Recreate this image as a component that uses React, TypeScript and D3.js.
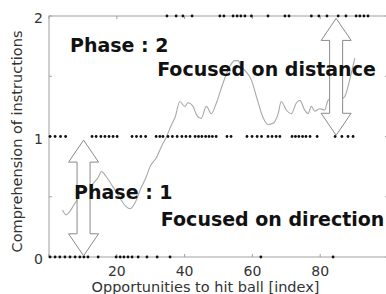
import React from 'react'
import * as d3 from 'd3'

// smoothed comprehension curve (index, value)
const curveIndex = [4, 5, 6.2, 7.5, 9, 10.5, 12, 13.3, 14.5, 15.5, 16.8, 18.9, 20.9, 22.7, 23.9, 25.4, 27.1, 28.6, 29.8, 31.8, 33.2, 34.7, 36, 37.2, 38.6, 40.1, 41, 42.5, 43.5, 44.9, 46.4, 47.9, 49.4, 51.3, 53.3, 54.8, 55.8, 56.7, 57.7, 59.7, 61.2, 63.1, 64.6, 66.1, 67.6, 68.5, 70, 71.5, 73, 74, 75.4, 76.4, 77.4, 78.4, 79.9, 81.3, 82.3, 83.5, 85, 86.2, 87.2, 88.7, 90.2]
const curveValue = [0.39, 0.35, 0.38, 0.44, 0.5, 0.55, 0.58, 0.62, 0.66, 0.71, 0.67, 0.58, 0.49, 0.42, 0.40, 0.45, 0.57, 0.66, 0.75, 0.83, 0.92, 1.0, 1.09, 1.16, 1.29, 1.25, 1.28, 1.25, 1.18, 1.15, 1.25, 1.19, 1.28, 1.44, 1.58, 1.63, 1.63, 1.58, 1.55, 1.47, 1.33, 1.16, 1.10, 1.11, 1.19, 1.29, 1.22, 1.19, 1.28, 1.30, 1.22, 1.19, 1.25, 1.21, 1.23, 1.22, 1.30, 1.32, 1.30, 1.31, 1.33, 1.47, 1.65]

// raw answers at each level
const dotsLevel0 = [0.3, 1.8, 3.2, 4.7, 6.2, 7.7, 9.1, 10.3, 11.5, 14.5, 19.8, 21.0, 22.1, 23.3, 24.5, 26.3, 28.9, 31.9, 35.7, 62.5, 83.8]
const dotsLevel1 = [0.3, 1.8, 3.4, 4.9, 12.7, 13.9, 15.3, 16.5, 17.7, 18.9, 20.1, 24.5, 25.8, 27.1, 28.5, 31.6, 32.7, 33.6, 35.1, 36.4, 37.8, 39.2, 40.4, 41.6, 43.1, 44.1, 45.1, 46.2, 47.2, 48.2, 49.3, 52.5, 53.7, 58.4, 59.9, 61.4, 62.7, 64.6, 65.8, 67.0, 68.1, 71.7, 72.7, 73.7, 74.8, 75.8, 77.0, 79.1, 84.4, 86.4, 88.2, 89.7]
const dotsLevel2 = [34.8, 37.5, 39.5, 42.2, 50.4, 51.6, 54.3, 55.5, 56.6, 57.8, 59.7, 64.6, 69.6, 70.8, 77.4, 79.6, 82.0, 85.3, 87.6, 90.6, 91.7, 92.9, 94.1]

const xTicks = [0, 20, 40, 60, 80, 100]
const xTickLabels = [20, 40, 60, 80]
const yTicks = [0, 0.5, 1, 1.5, 2]
const yTickLabels = [0, 1, 2]

// phase arrows: index, from value, to value
const arrowIndex = [10.2, 84.7]
const arrowFrom = [0.01, 1.01]
const arrowTo = [0.97, 1.98]

// annotation texts
const noteText = ['Phase : 2', 'Focused on distance', 'Phase : 1', 'Focused on direction']
const noteIndex = [6.2, 31.9, 7.4, 33.0]
const noteValue = [1.70, 1.50, 0.48, 0.26]

const W = 386
const H = 294

export default function App() {
  const x = d3.scaleLinear().domain([0, 100]).range([49, 388])
  const y = d3.scaleLinear().domain([0, 2]).range([257, 16])

  const pts: [number, number][] = curveIndex.map((d, i) => [d, curveValue[i]])
  const line = d3.line<[number, number]>()
    .x(d => x(d[0]))
    .y(d => y(d[1]))
    .curve(d3.curveMonotoneX)

  const dots = [
    ...dotsLevel0.map(d => [d, 0]),
    ...dotsLevel1.map(d => [d, 1]),
    ...dotsLevel2.map(d => [d, 2]),
  ]

  const arrowPath = (cx: number, y0: number, y1: number) => {
    const hl = 22, hw = 15, sw = 6.5
    return `M${cx},${y1} L${cx + hw},${y1 + hl} L${cx + sw},${y1 + hl} L${cx + sw},${y0 - hl} ` +
      `L${cx + hw},${y0 - hl} L${cx},${y0} L${cx - hw},${y0 - hl} L${cx - sw},${y0 - hl} ` +
      `L${cx - sw},${y1 + hl} L${cx - hw},${y1 + hl} Z`
  }

  const axisColor = '#a0a0a0'
  const font = 'DejaVu Sans, sans-serif'

  return (
    <svg width={W} height={H} style={{ position: 'fixed', left: 0, top: 0, background: '#fff' }}>
      {/* frame */}
      <rect x={x(0)} y={y(2)} width={x(100) - x(0)} height={y(0) - y(2)} fill="none" stroke={axisColor} strokeWidth={1} />
      {xTicks.map(t => (
        <g key={'xt' + t}>
          <line x1={x(t)} x2={x(t)} y1={y(0)} y2={y(0) - 3} stroke={axisColor} />
          <line x1={x(t)} x2={x(t)} y1={y(2)} y2={y(2) + 3} stroke={axisColor} />
        </g>
      ))}
      {yTicks.map(t => (
        <g key={'yt' + t}>
          <line x1={x(0)} x2={x(0) + 3} y1={y(t)} y2={y(t)} stroke={axisColor} />
          <line x1={x(100) - 3} x2={x(100)} y1={y(t)} y2={y(t)} stroke={axisColor} />
        </g>
      ))}

      {/* curve */}
      <path d={line(pts) ?? ''} fill="none" stroke="#a8a8a8" strokeWidth={1.1} />

      {/* dots */}
      {dots.map((d, i) => (
        <circle key={i} cx={x(d[0])} cy={y(d[1])} r={1.4} fill="#111" />
      ))}

      {/* arrows */}
      {arrowIndex.map((a, i) => (
        <path key={'ar' + i} d={arrowPath(x(a), y(arrowFrom[i]), y(arrowTo[i]))}
          fill="#fff" stroke="#8a8a8a" strokeWidth={1} />
      ))}

      {/* notes */}
      {noteText.map((t, i) => (
        <text key={'n' + i} x={x(noteIndex[i])} y={y(noteValue[i])} fontFamily={font}
          fontWeight="bold" fontSize={19} fill="#111">{t}</text>
      ))}

      {/* tick labels */}
      {xTickLabels.map(t => (
        <text key={'xl' + t} x={x(t)} y={276} textAnchor="middle" fontFamily={font}
          fontSize={14} fill="#333">{t}</text>
      ))}
      {yTickLabels.map(t => (
        <text key={'yl' + t} x={43} y={y(t) + 7} textAnchor="end" fontFamily={font}
          fontSize={14} fill="#333">{t}</text>
      ))}

      {/* axis titles */}
      <text x={(90 + 321) / 2} y={292} textAnchor="middle" fontFamily={font} fontSize={14.5} fill="#333">
        Opportunities to hit ball [index]
      </text>
      <text transform={`translate(21.5,${(28 + 255) / 2}) rotate(-90)`} textAnchor="middle"
        fontFamily={font} fontSize={14.5} fill="#333">
        Comprehension of instructions
      </text>
    </svg>
  )
}
